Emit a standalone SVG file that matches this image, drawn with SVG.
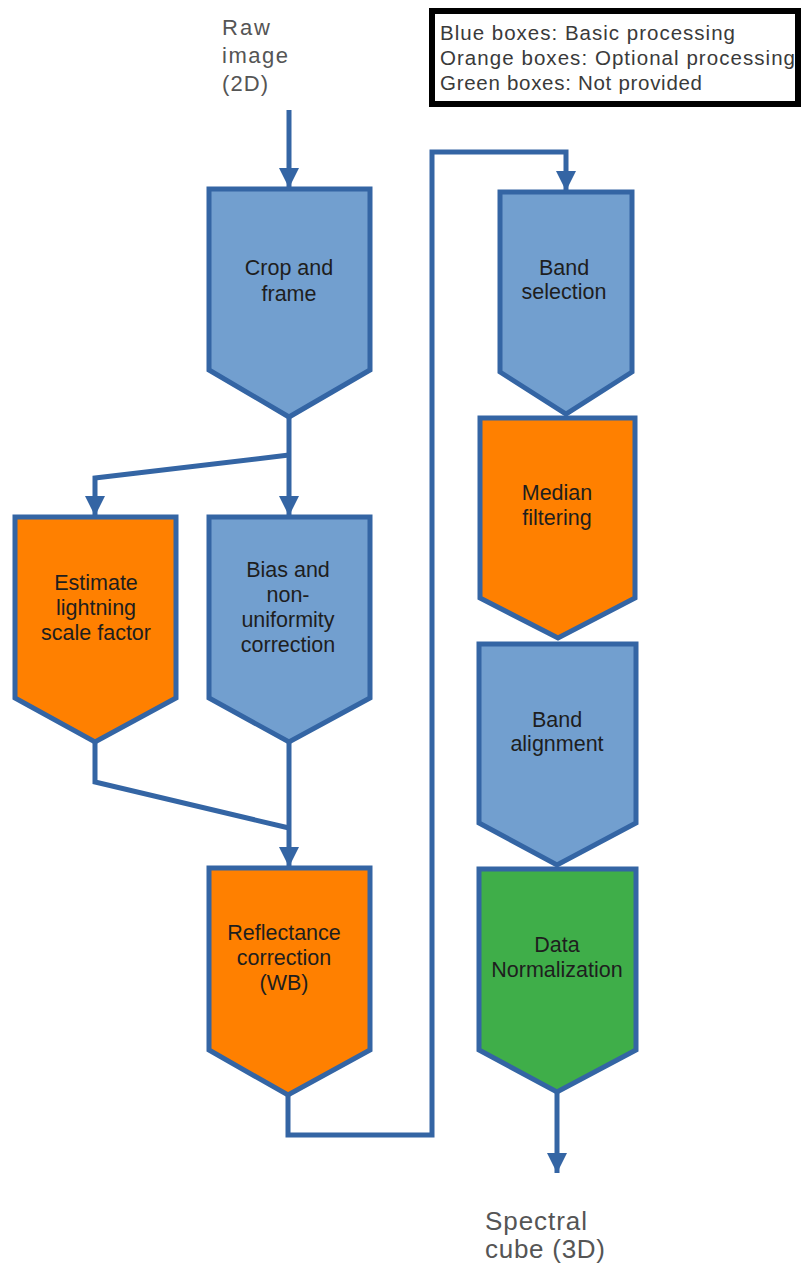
<svg xmlns="http://www.w3.org/2000/svg" width="802" height="1267" viewBox="0 0 802 1267">
<defs>
<style>
.box{stroke:#3465a4;stroke-width:5;stroke-linejoin:miter}
.blue{fill:#729fcf}
.orange{fill:#ff8000}
.green{fill:#3fae49}
.t{font-family:"Liberation Sans",Arial,sans-serif;font-size:21.5px;fill:#1e1e1e;text-anchor:middle}
.lbl{font-family:"Liberation Sans",Arial,sans-serif;fill:#555}
.leg{font-family:"Liberation Sans",Arial,sans-serif;font-size:20.5px;fill:#3a3a3a}
.c{fill:none;stroke:#3465a4;stroke-width:5;stroke-linejoin:miter}
</style>
<marker id="arr" markerUnits="userSpaceOnUse" markerWidth="22" markerHeight="20" viewBox="0 0 22 20" refX="20" refY="10" orient="auto">
<path d="M0,0 L20,10 L0,20 Z" fill="#3465a4"/>
</marker>
</defs>
<rect width="802" height="1267" fill="#fff"/>

<g id="legend">
<rect x="432" y="11" width="366" height="93" fill="#fff" stroke="#000" stroke-width="6"/>
<text class="leg" x="440" y="40" textLength="295" lengthAdjust="spacing">Blue boxes: Basic processing</text>
<text class="leg" x="440" y="65" textLength="355" lengthAdjust="spacing">Orange boxes: Optional processing</text>
<text class="leg" x="440" y="90" textLength="262" lengthAdjust="spacing">Green boxes: Not provided</text>
</g>

<g id="raw-label">
<text class="lbl" font-size="22" x="222" y="35" textLength="48" lengthAdjust="spacing">Raw</text>
<text class="lbl" font-size="22" x="222" y="63" textLength="66" lengthAdjust="spacing">image</text>
<text class="lbl" font-size="22" x="222" y="91" textLength="46" lengthAdjust="spacing">(2D)</text>
</g>

<g id="spectral-label">
<text class="lbl" font-size="26" x="485" y="1230" textLength="102" lengthAdjust="spacing">Spectral</text>
<text class="lbl" font-size="26" x="485" y="1258" textLength="120" lengthAdjust="spacing">cube (3D)</text>
</g>

<g id="connectors">
<path class="c" d="M289,110 L289,188" marker-end="url(#arr)"/>
<path class="c" d="M289,417 L289,516" marker-end="url(#arr)"/>
<path class="c" d="M289,455 L95,478 L95,516" marker-end="url(#arr)"/>
<path class="c" d="M95,742 L95,782 L289,828"/>
<path class="c" d="M289,742 L289,867" marker-end="url(#arr)"/>
<path class="c" d="M288,1095 L288,1135 L432,1135 L432,152 L566,152 L566,191" marker-end="url(#arr)"/>
<path class="c" d="M557,1092 L557,1173" marker-end="url(#arr)"/>
</g>

<g id="crop">
<polygon class="box blue" points="209,189 370,189 370,370 289,417 209,370"/>
<text class="t" x="289" y="275">Crop and</text>
<text class="t" x="289" y="301">frame</text>
</g>

<g id="estimate">
<polygon class="box orange" points="15,517 176,517 176,698 95,742 15,698"/>
<text class="t" x="96" y="590">Estimate</text>
<text class="t" x="96" y="615">lightning</text>
<text class="t" x="96" y="640">scale factor</text>
</g>

<g id="bias">
<polygon class="box blue" points="209,517 370,517 370,698 289,742 209,698"/>
<text class="t" x="288" y="577">Bias and</text>
<text class="t" x="288" y="602">non-</text>
<text class="t" x="288" y="627">uniformity</text>
<text class="t" x="288" y="652">correction</text>
</g>

<g id="reflectance">
<polygon class="box orange" points="209,868 370,868 370,1050 288,1095 209,1050"/>
<text class="t" x="284" y="940">Reflectance</text>
<text class="t" x="284" y="965">correction</text>
<text class="t" x="284" y="990">(WB)</text>
</g>

<g id="band-selection">
<polygon class="box blue" points="500,192 632,192 632,372 566,414 500,372"/>
<text class="t" x="564" y="275">Band</text>
<text class="t" x="564" y="299">selection</text>
</g>

<g id="median">
<polygon class="box orange" points="480,418 635,418 635,598 558,638 480,598"/>
<text class="t" x="557" y="500">Median</text>
<text class="t" x="557" y="525">filtering</text>
</g>

<g id="band-alignment">
<polygon class="box blue" points="479,644 636,644 636,823 557,865 479,823"/>
<text class="t" x="557" y="727">Band</text>
<text class="t" x="557" y="751">alignment</text>
</g>

<g id="normalization">
<polygon class="box green" points="479,869 636,869 636,1050 557,1092 479,1050"/>
<text class="t" x="557" y="952">Data</text>
<text class="t" x="557" y="977">Normalization</text>
</g>
</svg>
